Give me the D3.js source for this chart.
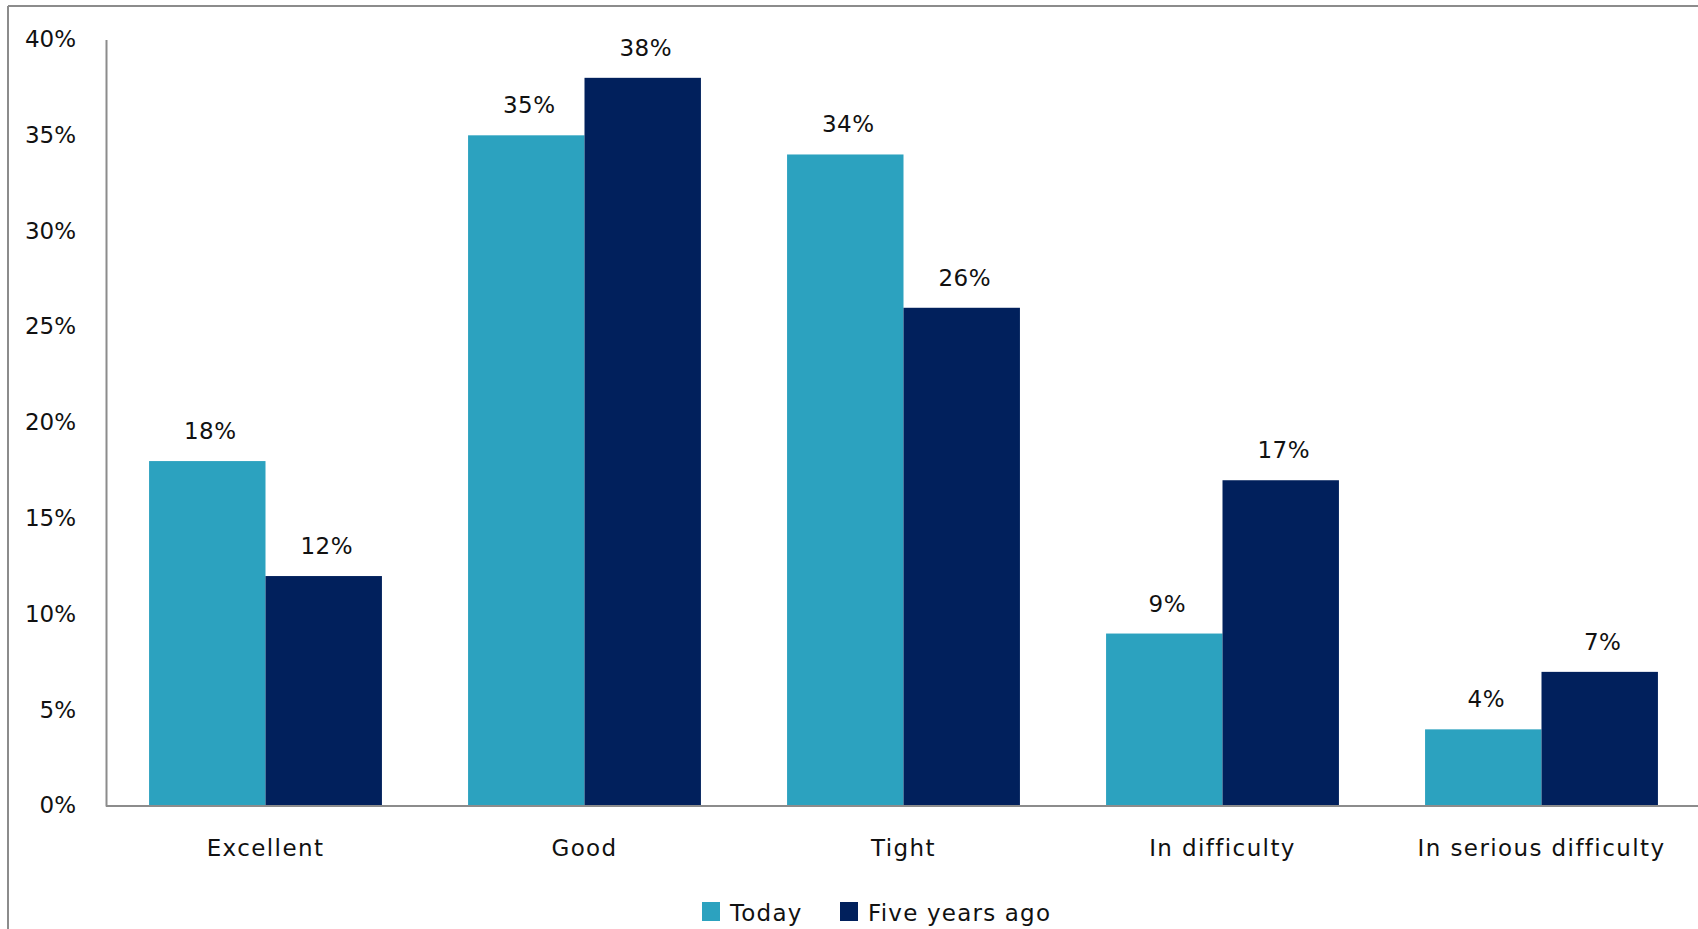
<!DOCTYPE html>
<html><head><meta charset="utf-8">
<script src="https://cdn.jsdelivr.net/npm/d3@7"></script>
<style>html,body{margin:0;padding:0;background:#fff;overflow:hidden}</style>
</head><body>
<script>
const categories = ["Excellent","Good","Tight","In difficulty","In serious difficulty"];
const seriesNames = ["Today","Five years ago"];
const today = [18,35,34,9,4];
const fiveYearsAgo = [12,38,26,17,7];
const yTicks = [0,5,10,15,20,25,30,35,40];
const colors = ["#2CA2BF","#01205C"];

const W = 1698, H = 929;
const svg = d3.select("body").append("svg").attr("width",W).attr("height",H);
const font = "'DejaVu Sans', sans-serif";
const fs = 23;

// outer frame (left and top visible)
svg.append("line").attr("x1",8).attr("x2",8).attr("y1",6).attr("y2",H).attr("stroke","#8c8c8c").attr("stroke-width",2);
svg.append("line").attr("x1",8).attr("x2",W).attr("y1",6).attr("y2",6).attr("stroke","#8c8c8c").attr("stroke-width",2);

const x0 = d3.scaleBand().domain(categories).range([106,1701]).paddingInner(0.27).paddingOuter(0.135);
const x1 = d3.scaleBand().domain(seriesNames).range([0,x0.bandwidth()]);
const y = d3.scaleLinear().domain([0,40]).range([806,39.5]);

const data = categories.map((c,i)=>({cat:c, vals:[today[i],fiveYearsAgo[i]]}));

const g = svg.append("g");
g.selectAll("g.cat").data(data).join("g").attr("class","cat")
 .attr("transform",d=>`translate(${x0(d.cat)},0)`)
 .each(function(d){
   const sel = d3.select(this);
   sel.selectAll("rect").data(d.vals).join("rect")
     .attr("x",(v,j)=>x1(seriesNames[j]))
     .attr("width",x1.bandwidth())
     .attr("y",v=>y(v)).attr("height",v=>y(0)-y(v))
     .attr("fill",(v,j)=>colors[j]);
   sel.selectAll("text").data(d.vals).join("text")
     .attr("x",(v,j)=>x1(seriesNames[j])+x1.bandwidth()/2+3)
     .attr("y",v=>y(v)-22)
     .attr("text-anchor","middle")
     .attr("font-family",font).attr("font-size",fs).attr("fill","#111").attr("letter-spacing","0.5px")
     .text(v=>v+"%");
 });

// y axis
const yAxis = d3.axisLeft(y).tickValues(yTicks).tickFormat(d=>d+"%").tickSize(0).tickPadding(30);
const ya = svg.append("g").attr("transform","translate(106,0)").call(yAxis);
ya.select(".domain").attr("stroke","#8c8c8c").attr("stroke-width",2);
ya.selectAll("text").attr("font-family",font).attr("font-size",fs).attr("fill","#111").attr("dy","0.3em");

// x axis
const xAxis = d3.axisBottom(x0).tickSize(0).tickPadding(34);
const xa = svg.append("g").attr("transform","translate(0,806)").call(xAxis);
xa.select(".domain").attr("d",`M106,0H${W}`).attr("stroke","#8c8c8c").attr("stroke-width",2);
xa.selectAll("text").attr("font-family",font).attr("font-size",fs).attr("fill","#111").attr("letter-spacing","1.4px");

// legend
const legendItems = [{name:seriesNames[0],x:702},{name:seriesNames[1],x:840}];
const lg = svg.append("g");
legendItems.forEach((it,i)=>{
  lg.append("rect").attr("x",it.x).attr("y",902).attr("width",18).attr("height",19).attr("fill",colors[i]);
  lg.append("text").attr("x",it.x+28).attr("y",921).attr("font-family",font).attr("font-size",fs)
    .attr("fill","#111").attr("letter-spacing","1.2px").text(it.name);
});
</script>
</body></html>
